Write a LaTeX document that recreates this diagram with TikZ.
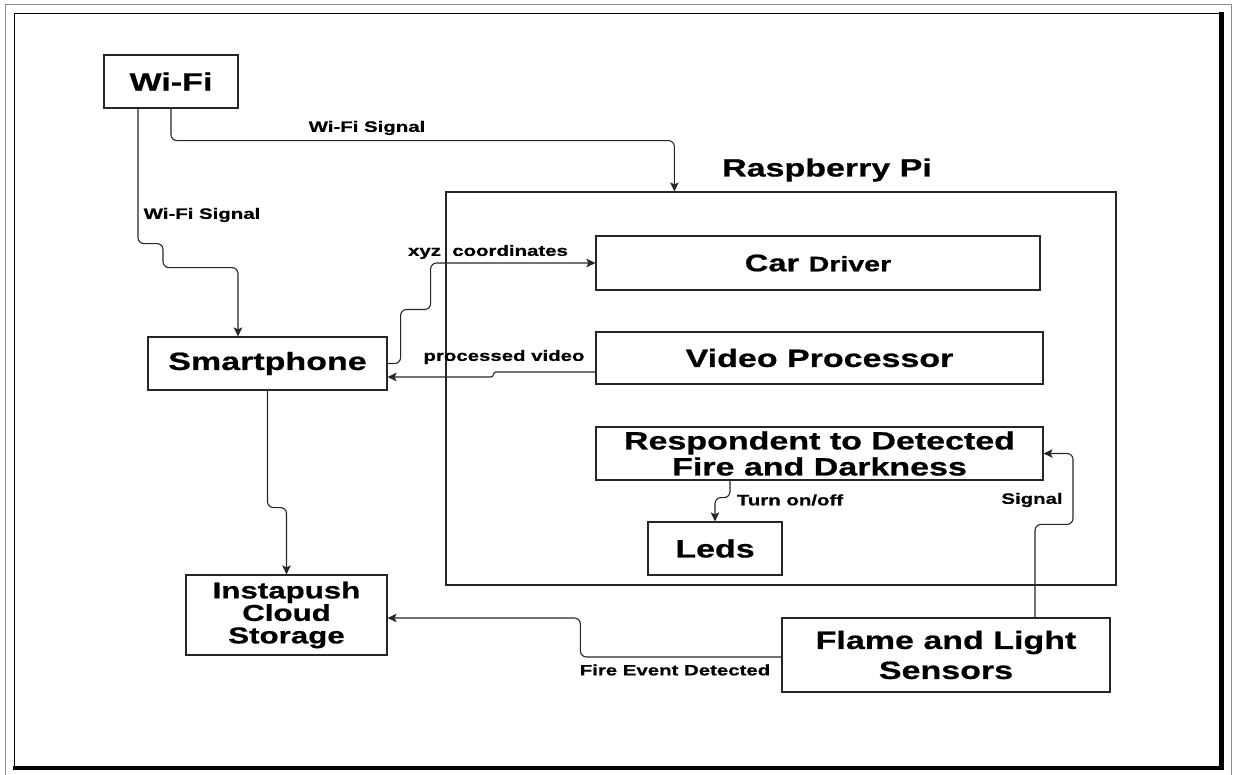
\documentclass[tikz,border=0pt]{standalone}
\usepackage{fontspec}
\setmainfont{Liberation Sans}[FakeStretch=1.36, BoldFeatures={FakeStretch=1.36, FakeBold=0.7}]
\usetikzlibrary{arrows.meta}
\begin{document}
\begin{tikzpicture}[x=1pt,y=-1pt,
  box/.style={draw=black!85, line width=1.2pt, inner sep=0pt, align=center,
    font=\bfseries\fontsize{25}{26}\selectfont},
  conn/.style={draw=black!85, line width=1.1pt, rounded corners=6pt,
    -{Stealth[length=9pt,width=8.5pt,inset=2pt]}},
  tight/.style={rounded corners=2.5pt},
  lab/.style={font=\bfseries\fontsize{15}{18}\selectfont, inner sep=0pt}]
\useasboundingbox (0,0) rectangle (1236,775);
% frame
\draw[black!45, line width=1pt] (5,776) -- (5,5) -- (1231.5,5) -- (1231.5,776);
\draw[black, line width=1.6pt] (14.5,766) -- (14.5,13.5) -- (1219.5,13.5);
\draw[black, line width=4.5pt] (1221.5,11.8) -- (1221.5,768) -- (12.8,768);
% nodes
\node[box, minimum width=134pt, minimum height=53pt] (wifi) at (171,81.5) {Wi-Fi};
\node[draw=black!85, line width=1.2pt, minimum width=670pt, minimum height=393pt, inner sep=0pt] (rpi) at (781,388.5) {};
\node[font=\bfseries\fontsize{25}{26}\selectfont, inner sep=0pt] (rpilabel) at (827,170) {Raspberry Pi};
\node[box, minimum width=444pt, minimum height=54pt] (car) at (818,263)
  {{\fontsize{24}{26}\selectfont Car} {\fontsize{21}{24}\selectfont Driver}};
\node[box, minimum width=447pt, minimum height=52pt] (video) at (819.5,358) {Video Processor};
\node[box, minimum width=447pt, minimum height=53pt] (resp) at (819.5,453.5)
  {Respondent to Detected\\Fire and Darkness};
\node[box, minimum width=134pt, minimum height=53pt] (leds) at (715,548.5) {Leds};
\node[box, minimum width=239pt, minimum height=53pt] (smart) at (267.5,363.5) {Smartphone};
\node[box, minimum width=201pt, minimum height=80pt, font=\bfseries\fontsize{23}{22.5}\selectfont] (insta) at (286.5,615)
  {Instapush\\Cloud\\Storage};
\node[box, minimum width=328pt, minimum height=74pt, font=\bfseries\fontsize{25}{30}\selectfont] (flame) at (946,655)
  {Flame and Light\\Sensors};
% connectors
\draw[conn] (wifi.south) -- ++(0,32) -| ([xshift=229pt]rpi.north west);
\node[lab] (l1) at (367,128) {Wi-Fi Signal};
\draw[conn] ([xshift=-33pt]wifi.south) -- ++(0,135) -- ++(25,0) -- ++(0,24) -| ([xshift=-29.5pt]smart.north);
\node[lab] (l2) at (202,215) {Wi-Fi Signal};
\draw[conn] (smart.east) -- ++(13,0) -- ++(0,-54) -- ++(30,0) |- (car.west);
\node[lab] (l3) at (488,252) {xyz~\ coordinates};
\draw[conn, tight] ([yshift=-14pt]video.west) -- ++(-102,0) -- ++(0,5) -- ([yshift=-13.5pt]smart.east);
\node[lab] (l4) at (504,357) {processed video};
\draw[conn] ([xshift=-89.5pt]resp.south) -- ++(0,17) -| (leds.north);
\node[lab] (l5) at (790,500) {Turn on/off};
\draw[conn] (smart.south) -- ++(0,117) -| (insta.north);
\draw[conn] ([yshift=-2pt]flame.west) -| ++(-201,-39) -- ([yshift=-3pt]insta.east);
\node[lab] (l6) at (675,670) {Fire Event Detected};
\draw[conn] ([xshift=89pt]flame.north) -- ++(0,-93) -- ++(38,0) |- (resp.east);
\node[lab] (l7) at (1032,500) {Signal};
\end{tikzpicture}
\end{document}
